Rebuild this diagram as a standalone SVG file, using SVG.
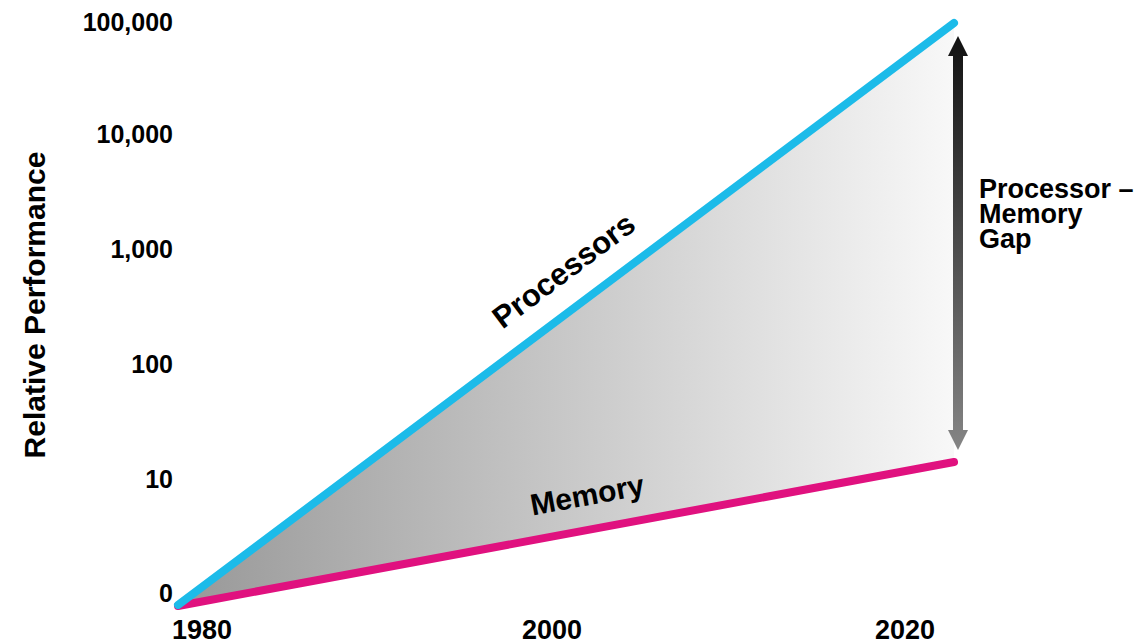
<svg xmlns="http://www.w3.org/2000/svg" width="1142" height="644" viewBox="0 0 1142 644">
  <style>
    text { font-family: "Liberation Sans", Arial, sans-serif; font-weight: bold; fill: #000; }
    .ylab { font-size: 25px; text-anchor: end; }
    .xlab { font-size: 27px; text-anchor: middle; }
    .gap { font-size: 27px; }
    .series { stroke-width: 8; stroke-linecap: round; fill: none; }
  </style>
  <defs>
    <linearGradient id="gapFill" x1="178" y1="0" x2="954" y2="0" gradientUnits="userSpaceOnUse">
      <stop offset="0" stop-color="#989898"/>
      <stop offset="0.5" stop-color="#c8c8c8"/>
      <stop offset="1" stop-color="#f8f8f8"/>
    </linearGradient>
    <linearGradient id="gapArrow" x1="0" y1="36" x2="0" y2="450" gradientUnits="userSpaceOnUse">
      <stop offset="0" stop-color="#111"/>
      <stop offset="1" stop-color="#858585"/>
    </linearGradient>
  </defs>

  <!-- axis tick labels -->
  <g id="y-axis">
    <text class="ylab" x="173" y="31">100,000</text>
    <text class="ylab" x="173" y="143">10,000</text>
    <text class="ylab" x="173" y="258">1,000</text>
    <text class="ylab" x="173" y="373">100</text>
    <text class="ylab" x="173" y="488">10</text>
    <text class="ylab" x="173" y="602">0</text>
    <text x="0" y="0" font-size="30" text-anchor="middle" transform="translate(45 305) rotate(-90)">Relative Performance</text>
  </g>
  <g id="x-axis">
    <text class="xlab" x="202" y="639">1980</text>
    <text class="xlab" x="552" y="639">2000</text>
    <text class="xlab" x="905" y="639">2020</text>
  </g>

  <!-- shaded gap between the two series -->
  <g id="gap-area">
    <polygon points="178,605 954,23 954,462" fill="url(#gapFill)"/>
  </g>

  <g id="connectors">
    <line id="memory-line" class="series" x1="178" y1="606" x2="954" y2="462" stroke="#e0117f"/>
    <line id="processor-line" class="series" x1="178" y1="605" x2="954" y2="23" stroke="#1cbbe9"/>
    <!-- double-headed gap arrow -->
    <polygon id="gap-arrow" fill="url(#gapArrow)"
      points="958,36 968,56 963,56 963,430 968,430 958,450 948,430 953,430 953,56 948,56"/>
  </g>

  <g id="processors-label">
    <text x="0" y="0" font-size="31" text-anchor="middle" transform="translate(570 279) rotate(-36.9)">Processors</text>
  </g>
  <g id="memory-label">
    <text x="0" y="0" font-size="30" text-anchor="middle" transform="translate(589 505) rotate(-10.5)">Memory</text>
  </g>
  <g id="gap-label">
    <text class="gap" x="979" y="198">Processor –</text>
    <text class="gap" x="979" y="223">Memory</text>
    <text class="gap" x="979" y="248">Gap</text>
  </g>
</svg>
